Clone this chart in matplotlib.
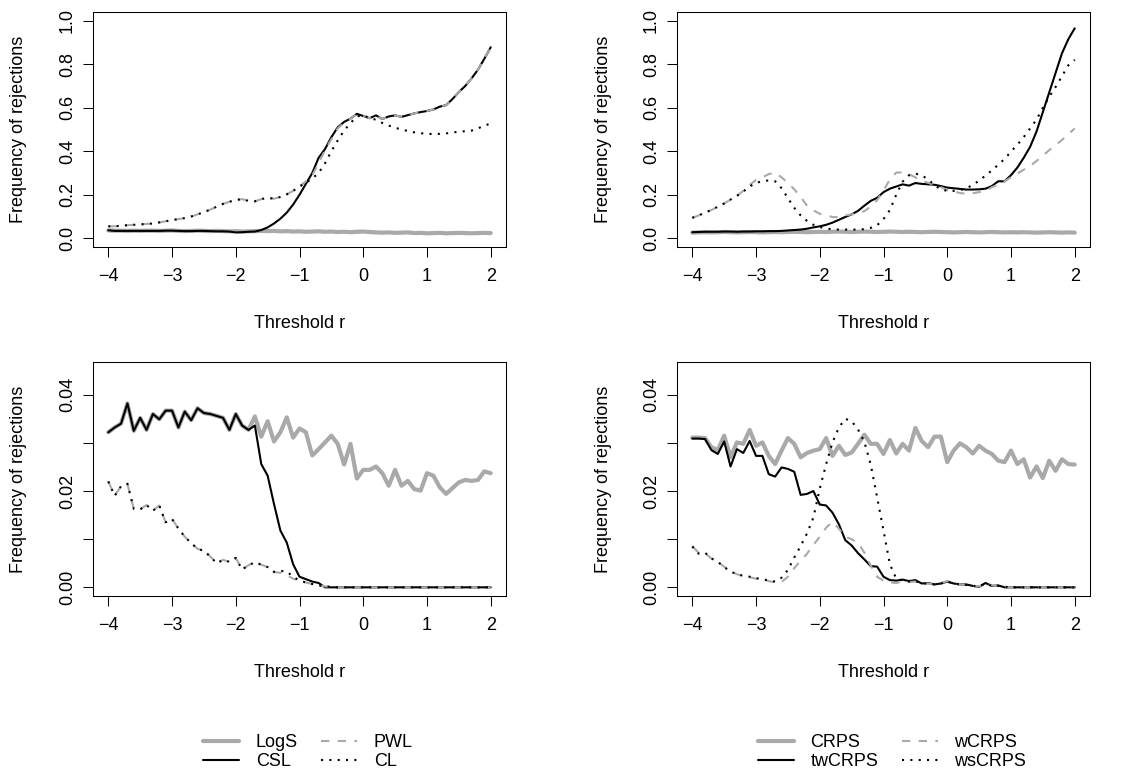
import numpy as np
import matplotlib
matplotlib.use("Agg")
import matplotlib.pyplot as plt
from matplotlib.lines import Line2D

plt.rcParams['font.family'] = ['Liberation Sans', 'DejaVu Sans']

# ---------------- data ----------------
r = np.round(np.arange(-4.0, 2.0001, 0.1), 1)

# top-left panel (power, log-score family)
logs_top = [0.036, 0.035, 0.035, 0.034, 0.035, 0.034, 0.035, 0.035, 0.034, 0.035,
            0.036, 0.034, 0.033, 0.034, 0.035, 0.034, 0.033, 0.034, 0.033, 0.032,
            0.033, 0.031, 0.032, 0.033,
            0.034, 0.033, 0.034, 0.032, 0.033, 0.031, 0.032, 0.030, 0.031, 0.032,
            0.030, 0.031, 0.029, 0.030, 0.028, 0.030, 0.031, 0.029, 0.027, 0.026,
            0.027, 0.025, 0.026, 0.027, 0.024, 0.025, 0.023, 0.024, 0.025, 0.023,
            0.024, 0.025, 0.024, 0.023, 0.024, 0.025, 0.024]
csl_top = [0.037, 0.034, 0.034, 0.034, 0.034, 0.034, 0.034, 0.034, 0.034, 0.035,
           0.035, 0.034, 0.033, 0.033, 0.034, 0.034, 0.033, 0.032, 0.032, 0.031,
           0.027, 0.028, 0.030, 0.031,
           0.038, 0.050, 0.068, 0.090, 0.118, 0.155, 0.200, 0.250, 0.300, 0.370,
           0.410, 0.465, 0.510, 0.535, 0.550, 0.572, 0.562, 0.552, 0.565, 0.548,
           0.560, 0.565, 0.558, 0.566, 0.574, 0.580, 0.585, 0.592, 0.605, 0.612,
           0.640, 0.672, 0.700, 0.735, 0.775, 0.825, 0.878]
pwl_top = [0.055, 0.055, 0.058, 0.060, 0.062, 0.064, 0.066, 0.068, 0.073, 0.078,
           0.084, 0.088, 0.093, 0.100, 0.110, 0.120, 0.132, 0.145, 0.158, 0.168,
           0.176, 0.180, 0.172, 0.170, 0.180, 0.186, 0.182, 0.190, 0.202, 0.218,
           0.238, 0.262, 0.290, 0.345, 0.405, 0.455, 0.505, 0.532, 0.550, 0.572,
           0.562, 0.552, 0.565, 0.548, 0.560, 0.565, 0.558, 0.566, 0.574, 0.580,
           0.585, 0.592, 0.605, 0.612, 0.640, 0.672, 0.700, 0.735, 0.775, 0.825,
           0.878]
cl_top = [0.055, 0.055, 0.058, 0.060, 0.062, 0.064, 0.066, 0.068, 0.073, 0.078,
          0.084, 0.088, 0.093, 0.100, 0.110, 0.120, 0.132, 0.145, 0.158, 0.168,
          0.176, 0.180, 0.172, 0.170, 0.180, 0.186, 0.182, 0.190, 0.202, 0.218,
          0.238,
          0.255, 0.275, 0.300, 0.345, 0.400, 0.450, 0.495, 0.530, 0.560, 0.565,
          0.552, 0.545, 0.530, 0.518, 0.508, 0.500, 0.493, 0.487, 0.483, 0.480,
          0.479, 0.480, 0.482, 0.486, 0.490, 0.492, 0.495, 0.505, 0.518, 0.527]

# top-right panel (power, CRPS family)
crps_top = [0.026, 0.027, 0.028, 0.027, 0.028, 0.029, 0.028, 0.027, 0.028, 0.029,
            0.028, 0.027, 0.028, 0.029, 0.028, 0.029, 0.030, 0.029, 0.028, 0.029,
            0.030, 0.029, 0.030, 0.031, 0.030, 0.029, 0.030, 0.031, 0.030, 0.029,
            0.030, 0.031, 0.030, 0.029, 0.030, 0.029, 0.028, 0.029, 0.030, 0.029,
            0.028, 0.027, 0.028, 0.029, 0.028, 0.027, 0.028, 0.029, 0.028, 0.027,
            0.028, 0.027, 0.028, 0.027, 0.026, 0.027, 0.028, 0.027, 0.026, 0.027,
            0.026]
twcrps_top = [0.028, 0.029, 0.030, 0.030, 0.030, 0.031, 0.031, 0.030, 0.031, 0.031,
              0.032, 0.032, 0.033, 0.033, 0.034, 0.036, 0.038, 0.040, 0.044, 0.050,
              0.055, 0.062, 0.072, 0.085, 0.098, 0.110, 0.126, 0.150, 0.172, 0.186,
              0.212, 0.228, 0.238, 0.248, 0.242, 0.254, 0.250, 0.248, 0.246, 0.240,
              0.233, 0.230, 0.227, 0.224, 0.224, 0.225, 0.228, 0.240, 0.262, 0.262,
              0.290, 0.325, 0.370, 0.420, 0.490, 0.580, 0.670, 0.760, 0.850, 0.915,
              0.965]
wcrps_top = [0.094, 0.105, 0.118, 0.130, 0.145, 0.160, 0.178, 0.195, 0.218, 0.245,
             0.268, 0.280, 0.295, 0.302, 0.280, 0.255, 0.225, 0.190, 0.150, 0.128,
             0.113, 0.105, 0.098, 0.097, 0.105, 0.110, 0.115, 0.125, 0.145, 0.175,
             0.220, 0.270, 0.302, 0.303, 0.295, 0.280, 0.265, 0.255, 0.245, 0.235,
             0.222, 0.215, 0.208, 0.205, 0.207, 0.212, 0.218, 0.235, 0.248, 0.262,
             0.280, 0.298, 0.315, 0.332, 0.355, 0.380, 0.405, 0.428, 0.452, 0.478,
             0.505]
wscrps_top = [0.094, 0.105, 0.118, 0.130, 0.145, 0.160, 0.178, 0.195, 0.215, 0.238,
              0.255, 0.262, 0.266, 0.262, 0.230, 0.185, 0.140, 0.105, 0.080, 0.062,
              0.052, 0.045, 0.041, 0.040, 0.040, 0.040, 0.040, 0.042, 0.048, 0.060,
              0.088, 0.130, 0.200, 0.260, 0.290, 0.297, 0.290, 0.270, 0.245, 0.225,
              0.218, 0.218, 0.222, 0.230, 0.245, 0.265, 0.288, 0.312, 0.338, 0.365,
              0.398, 0.430, 0.465, 0.505, 0.545, 0.600, 0.650, 0.695, 0.745, 0.795,
              0.820]

# bottom-left panel (size, log-score family)
csl_bot = [0.0322, 0.0332, 0.0340, 0.0382, 0.0325, 0.0352, 0.0327, 0.0360, 0.0349, 0.0367,
           0.0367, 0.0332, 0.0365, 0.0347, 0.0372, 0.0362, 0.0360, 0.0356, 0.0352, 0.0327,
           0.0360, 0.0336, 0.0327, 0.0336,
           0.0256, 0.0232, 0.0173, 0.0118, 0.0093, 0.0048, 0.0022, 0.0017, 0.0012, 0.0009,
           0, 0, 0, 0, 0, 0, 0, 0, 0, 0, 0, 0, 0, 0, 0, 0, 0, 0, 0, 0, 0, 0, 0, 0, 0, 0, 0]
logs_bot = [0.0322, 0.0332, 0.0340, 0.0382, 0.0325, 0.0352, 0.0327, 0.0360, 0.0349, 0.0367,
            0.0367, 0.0332, 0.0365, 0.0347, 0.0372, 0.0362, 0.0360, 0.0356, 0.0352, 0.0327,
            0.0360, 0.0336, 0.0327,
            0.0355, 0.0313, 0.0345, 0.0303, 0.0322, 0.0353, 0.0311, 0.0330, 0.0322, 0.0274,
            0.0287, 0.0301, 0.0315, 0.0298, 0.0255, 0.0298, 0.0226, 0.0244, 0.0244, 0.0251,
            0.0237, 0.0211, 0.0244, 0.0211, 0.0221, 0.0204, 0.0201, 0.0237, 0.0232, 0.0208,
            0.0194, 0.0206, 0.0218, 0.0223, 0.0221, 0.0223, 0.0241, 0.0237]
pwl_bot = [0.0220, 0.0190, 0.0210, 0.0215, 0.0163, 0.0162, 0.0171, 0.0159, 0.0170, 0.0135,
           0.0142, 0.0122, 0.0105, 0.0092, 0.0080, 0.0076, 0.0064, 0.0050, 0.0057, 0.0053,
           0.0061, 0.0037, 0.0046, 0.0052, 0.0047, 0.0042, 0.0032, 0.0030, 0.0025, 0.0018,
           0.0014, 0.0010, 0.0007, 0.0004, 0.0002, 0.0001,
           0, 0, 0, 0, 0, 0, 0, 0, 0, 0, 0, 0, 0, 0, 0, 0, 0, 0, 0, 0, 0, 0, 0, 0, 0]
cl_bot = [0.0220, 0.0190, 0.0210, 0.0215, 0.0163, 0.0162, 0.0171, 0.0159, 0.0170, 0.0135,
          0.0142, 0.0122, 0.0105, 0.0092, 0.0080, 0.0076, 0.0064, 0.0050, 0.0057, 0.0053,
          0.0061, 0.0037, 0.0046, 0.0052, 0.0047, 0.0042, 0.0032, 0.0034, 0.0033, 0.0022,
          0.0014, 0.0010, 0.0007, 0.0004, 0.0002, 0.0001,
          0, 0, 0, 0, 0, 0, 0, 0, 0, 0, 0, 0, 0, 0, 0, 0, 0, 0, 0, 0, 0, 0, 0, 0, 0]

# bottom-right panel (size, CRPS family)
crps_bot = [0.0311, 0.0311, 0.0310, 0.0291, 0.0285, 0.0315, 0.0270, 0.0301, 0.0298, 0.0327,
            0.0294, 0.0301, 0.0273, 0.0256, 0.0284, 0.0310, 0.0298, 0.0270, 0.0279, 0.0284,
            0.0287, 0.0310, 0.0273, 0.0294, 0.0275, 0.0280, 0.0298, 0.0317, 0.0298, 0.0298,
            0.0277, 0.0306, 0.0278, 0.0298, 0.0284, 0.0331, 0.0304, 0.0291, 0.0313, 0.0313,
            0.0260, 0.0284, 0.0299, 0.0291, 0.0278, 0.0294, 0.0284, 0.0277, 0.0263, 0.0260,
            0.0284, 0.0256, 0.0266, 0.0228, 0.0251, 0.0227, 0.0263, 0.0242, 0.0266, 0.0256,
            0.0255]
twcrps_bot = [0.0309, 0.0309, 0.0308, 0.0285, 0.0277, 0.0303, 0.0251, 0.0287, 0.0279, 0.0304,
              0.0273, 0.0273, 0.0235, 0.0230, 0.0249, 0.0246, 0.0240, 0.0192, 0.0194, 0.0200,
              0.0172, 0.0170, 0.0155, 0.0131, 0.0098, 0.0087, 0.0071, 0.0058, 0.0044, 0.0043,
              0.0022, 0.0015, 0.0014, 0.0016, 0.0013, 0.0015, 0.0008, 0.0009, 0.0006, 0.0008,
              0.0012, 0.0008, 0.0006, 0.0006, 0.0003, 0.0001, 0.0009, 0.0003, 0.0004, 0.0000,
              0, 0, 0, 0, 0, 0, 0, 0, 0, 0, 0]
wcrps_bot = [0.0085, 0.0072, 0.0071, 0.0060, 0.0053, 0.0043, 0.0034, 0.0027, 0.0024, 0.0021,
             0.0018, 0.0016, 0.0013, 0.0010, 0.0011, 0.0022, 0.0040, 0.0055, 0.0070, 0.0088,
             0.0105, 0.0124, 0.0136, 0.0122, 0.0105, 0.0100, 0.0092, 0.0072, 0.0045, 0.0022,
             0.0014, 0.0010, 0.0009, 0.0012, 0.0011, 0.0012, 0.0008, 0.0008, 0.0006, 0.0009,
             0.0013, 0.0009, 0.0006, 0.0005, 0.0003, 0.0002, 0.0009, 0.0004, 0.0003, 0.0001,
             0, 0, 0, 0, 0, 0, 0, 0, 0, 0, 0]
wscrps_bot = [0.0085, 0.0070, 0.0072, 0.0060, 0.0053, 0.0042, 0.0033, 0.0027, 0.0024, 0.0022,
              0.0019, 0.0017, 0.0014, 0.0012, 0.0020, 0.0036, 0.0062, 0.0086, 0.0112, 0.0145,
              0.0205, 0.0256, 0.0301, 0.0332, 0.0350, 0.0345, 0.0328, 0.0302, 0.0255, 0.0187,
              0.0118, 0.0048, 0.0018, 0.0014, 0.0012, 0.0013, 0.0008, 0.0008, 0.0006, 0.0008,
              0.0012, 0.0008, 0.0006, 0.0005, 0.0003, 0.0002, 0.0008, 0.0003, 0.0003, 0.0001,
              0, 0, 0, 0, 0, 0, 0, 0, 0, 0, 0]

x_ticks = [-4, -3, -2, -1, 0, 1, 2]
y_ticks_top = [0.0, 0.2, 0.4, 0.6, 0.8, 1.0]
y_labels_top = ['0.0', '0.2', '0.4', '0.6', '0.8', '1.0']
y_ticks_bot = [0.00, 0.01, 0.02, 0.03, 0.04]
y_labels_bot = ['0.00', '', '0.02', '', '0.04']

labels_left = ['LogS', 'CSL', 'PWL', 'CL']
labels_right = ['CRPS', 'twCRPS', 'wCRPS', 'wsCRPS']

# ---------------- styles ----------------
GRAY = '#A9A9A9'
styles = [
    dict(color=GRAY, lw=3.0, solid_capstyle='round', solid_joinstyle='round'),
    dict(color='black', lw=1.5, solid_capstyle='round', solid_joinstyle='round'),
    dict(color=GRAY, lw=1.5, dashes=(4, 4)),
    dict(color='black', lw=1.5, dashes=(1, 3)),
]

W, H = 1130, 773
fig = plt.figure(figsize=(W / 100, H / 100), dpi=100)


def make_ax(left_px, top_px, w_px, h_px):
    return fig.add_axes([left_px / W, 1 - (top_px + h_px) / H, w_px / W, h_px / H])


ax1 = make_ax(93, 12, 413, 235)
ax2 = make_ax(677, 12, 413, 235)
ax3 = make_ax(93, 362, 413, 234)
ax4 = make_ax(677, 362, 413, 234)

panels = [
    (ax1, [logs_top, csl_top, pwl_top, cl_top], 'top'),
    (ax2, [crps_top, twcrps_top, wcrps_top, wscrps_top], 'top'),
    (ax3, [logs_bot, csl_bot, pwl_bot, cl_bot], 'bot'),
    (ax4, [crps_bot, twcrps_bot, wcrps_bot, wscrps_bot], 'bot'),
]

for ax, series, kind in panels:
    for ys, st in zip(series, styles):
        ax.plot(r, ys, **st)
    ax.set_xlim(-4.24, 2.24)
    ax.set_xticks(x_ticks)
    ax.set_xticklabels([str(t).replace('-', '\u2212') for t in x_ticks])
    if kind == 'top':
        ax.set_ylim(-0.04, 1.04)
        ax.set_yticks(y_ticks_top)
        ax.set_yticklabels(y_labels_top)
    else:
        ax.set_ylim(-0.0018, 0.0468)
        ax.set_yticks(y_ticks_bot)
        ax.set_yticklabels(y_labels_bot)
    for lab in ax.get_yticklabels():
        lab.set_rotation(90)
        lab.set_va('center')
        lab.set_ha('right')
    ax.tick_params(axis='both', direction='out', length=7.2, width=0.75,
                   labelsize=13, colors='black')
    ax.tick_params(axis='x', pad=8)
    ax.tick_params(axis='y', pad=5)
    for sp in ax.spines.values():
        sp.set_linewidth(0.75)
    ax.set_xlabel('Threshold r', fontsize=13)
    ax.xaxis.set_label_coords(0.5, -0.325)
    ax.xaxis.label.set_va('center')
    ax.set_ylabel('Frequency of rejections', fontsize=13)
    ax.yaxis.set_label_coords(-74 / 413, 0.5)
    ax.yaxis.label.set_va('center')


def handles():
    return [Line2D([], [], **st) for st in styles]


leg_kw = dict(ncol=2, loc='center', frameon=False, fontsize=13, handlelength=2.0,
              handletextpad=0.9, columnspacing=1.3, labelspacing=0.12,
              borderpad=0.0)
fig.legend(handles(), labels_left, bbox_to_anchor=(308 / W, 1 - 752 / H), **leg_kw)
fig.legend(handles(), labels_right, bbox_to_anchor=(892 / W, 1 - 752 / H), **leg_kw)

fig.savefig('out.png', dpi=100)
